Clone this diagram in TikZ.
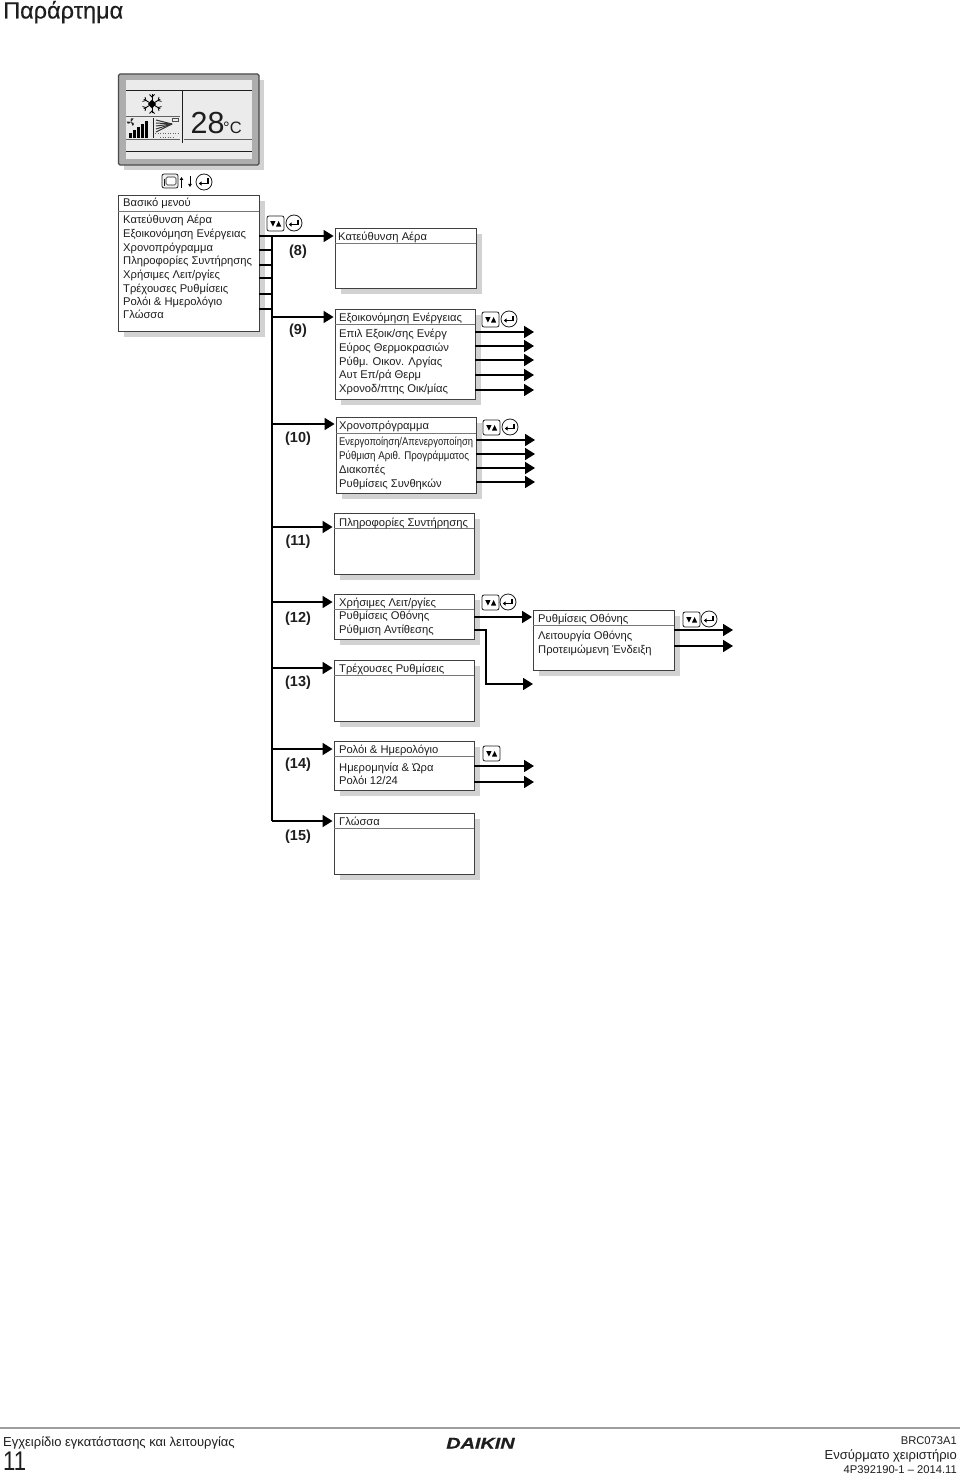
\documentclass[tikz,border=0pt]{standalone}
\usepackage{fontspec}
\setmainfont{Liberation Sans}
\newfontfamily\heavyfont[FakeBold=0.35]{Liberation Sans}
\newfontfamily\logofont[FakeBold=0.5]{Liberation Sans Bold Italic}
\usetikzlibrary{arrows.meta,fit,calc}
\definecolor{ink}{HTML}{1E1E1E}
\definecolor{shadowgrey}{HTML}{D2D2D2}
\tikzset{
  menubox/.style={draw=ink!85,line width=.9pt,fill=white,inner sep=0pt,rectangle},
  flow/.style={draw=black,line width=1.7pt,-{Triangle[length=10pt,width=12pt]}},
  stub/.style={draw=black,line width=1.5pt},
  bus/.style={draw=black,line width=1.8pt},
  sepline/.style={draw=ink!60,line width=.8pt},
  item/.style={anchor=base west,inner sep=0pt,text=ink,font=\fontsize{11.2}{13}\selectfont},
  num/.style={inner sep=0pt,text=ink,font=\fontsize{14.5}{16}\selectfont\bfseries},
  foot/.style={inner sep=0pt,text=ink},
  lcd/.style={draw=ink,line width=1pt},
}
% name, x1,y1,x2,y2,sep y
\newcommand{\menuframe}[6]{%
  \fill[shadowgrey] ({#2+6},{#3+6}) rectangle ({#4+6},{#5+6});
  \node[menubox,fit={(#2,#3)(#4,#5)}] (#1) {};
  \draw[sepline] (#2,#6) -- (#4,#6);
}
\newcommand{\updown}[2]{% x,y top left
  \begin{scope}[shift={(#1,#2)}]
    \draw[draw=ink,line width=.8pt,fill=white,rounded corners=2pt] (0,0) rectangle (17,15);
    \fill[black] (3.2,5) -- (8.6,5) -- (5.9,10.5) -- cycle;
    \fill[black] (9,10.5) -- (14.2,10.5) -- (11.6,5) -- cycle;
  \end{scope}}
\newcommand{\enterkey}[2]{% centre
  \begin{scope}[shift={(#1,#2)}]
    \draw[draw=ink,line width=.8pt,fill=white] (0,0) circle (8);
    \draw[black,line width=1.1pt] (4,-3.5) -- (4,1.5) -- (-3,1.5);
    \fill[black] (-5.2,1.5) -- (-2.5,-.6) -- (-2.5,3.6) -- cycle;
  \end{scope}}
\begin{document}
\begin{tikzpicture}[x=1pt,y=-1pt]
\useasboundingbox (0,0) rectangle (960,1474);
\fill[white] (0,0) rectangle (960,1474);

% page title
\node[anchor=base west,inner sep=0pt,text=ink,font=\fontsize{23.5}{26}\heavyfont] (pagetitle) at (3,18.5) {Παράρτημα};

% display
\fill[shadowgrey] (124,80) rectangle (264,170);
\draw[draw=ink!80,line width=1.3pt,fill=black!32,rounded corners=1.5pt] (118.5,74) rectangle (259,165);
\fill[black!8] (126,80) rectangle (252,159);
\draw[lcd] (126,90.5) -- (252,90.5);
\draw[lcd] (126,152) -- (252,152);
\draw[lcd] (182,91) -- (182,143);
\draw[lcd,draw=ink!70] (184,140) -- (252,140);
\draw[lcd,draw=ink!70] (126,140) -- (180,140);
\draw[lcd,draw=ink!70] (126,117) -- (180,117);
\draw[lcd,line width=.8pt] (153.5,118) -- (153.5,138);
% snowflake
\begin{scope}[shift={(152,104)}]
  \foreach \a in {0,60,...,300}{
    \draw[black,line width=.9pt,rotate=\a] (0,0) -- (0,-9.5);
    \draw[black,line width=.8pt,rotate=\a] (-2.5,-9.5) -- (0,-7) -- (2.5,-9.5);
  }
  \fill[black] (-4,0) -- (0,-4.5) -- (4,0) -- (0,4.5) -- cycle;
\end{scope}
% fan
\begin{scope}[shift={(131,122)}]
  \foreach \a in {30,150,270}{
    \fill[black!85,rotate=\a] (0,0) .. controls (.5,-3.5) and (3.5,-4) .. (4,-1.8) .. controls (3,-1.2) and (1.5,-.5) .. (0,0);
  }
\end{scope}
% level bars
\foreach \bx/\bh in {129/5,133/8,137/11,141/14,145/17}{
  \fill[black] (\bx,138.5) rectangle ({\bx+3.2},{138.5-\bh});
}
% louvres
\foreach \ey in {120,123,126,129,132}{
  \draw[black!80,line width=1pt] (172,124) -- (156,\ey);
}
\draw[black!70,line width=.6pt,fill=black!8] (172,118) rectangle (178,121);
\draw[black!60,line width=.5pt,dotted] (155,133.5) -- (178,133.5);
\draw[black!60,line width=.5pt,dotted] (160,137) -- (174,137);
% temperature
\node[anchor=base west,inner sep=0pt,text=ink,font=\fontsize{30.5}{32}\selectfont] (temp) at (190.5,133.5) {28};
\node[anchor=base west,inner sep=0pt,text=ink,font=\fontsize{16.5}{18}\selectfont] (tempunit) at (223,133.5) {°C};

% buttons under display
\draw[draw=ink,line width=.8pt,fill=black!6,rounded corners=2pt] (162,174) rectangle (178,188);
\draw[draw=ink,line width=.7pt,fill=white,rounded corners=1.5pt] (166,177) -- (176,177) -- (176,185) -- (166,185) -- cycle;
\draw[ink,line width=.7pt] (164,179) -- (164,186);
\draw[black,line width=1pt,-{Triangle[length=3pt,width=3.4pt]}] (181.5,188) -- (181.5,177);
\draw[black,line width=1pt,-{Triangle[length=3pt,width=3.4pt]}] (190,176) -- (190,187);
\enterkey{204}{182}

% main menu
\menuframe{mainmenu}{118}{195}{259}{331}{211}
\node[item] (mtitle) at (123,206) {Βασικό μενού};
\node[item] (m1) at (123,223) {Κατεύθυνση Αέρα};
\node[item] (m2) at (123,237) {Εξοικονόμηση Ενέργειας};
\node[item] (m3) at (123,251) {Χρονοπρόγραμμα};
\node[item] (m4) at (123,264) {Πληροφορίες Συντήρησης};
\node[item] (m5) at (123,278) {Χρήσιμες Λειτ/ργίες};
\node[item] (m6) at (123,292) {Τρέχουσες Ρυθμίσεις};
\node[item] (m7) at (123,305) {Ρολόι \& Ημερολόγιο};
\node[item] (m8) at (123,318) {Γλώσσα};

% sub-menus
\menuframe{b8}{335}{228}{476}{288}{243}
\node[item] (b8t) at (338,240) {Κατεύθυνση Αέρα};

\menuframe{b9}{335}{309}{475}{399}{324}
\node[item] (b9t) at (339,321) {Εξοικονόμηση Ενέργειας};
\node[item] (b9a) at (339,337) {Επιλ Εξοικ/σης Ενέργ};
\node[item] (b9b) at (339,351) {Εύρος Θερμοκρασιών};
\node[item] (b9c) at (339,365) {Ρύθμ. Οικον. Λργίας};
\node[item] (b9d) at (339,378) {Αυτ Επ/ρά Θερμ};
\node[item] (b9e) at (339,392) {Χρονοδ/πτης Οικ/μίας};

\menuframe{b10}{336}{417}{476}{493}{433}
\node[item] (b10t) at (339,429) {Χρονοπρόγραμμα};
\node[item] (b10a) at (339,445) {\scalebox{.84}[1]{Ενεργοποίηση/Απενεργοποίηση}};
\node[item] (b10b) at (339,459) {\scalebox{.87}[1]{Ρύθμιση Αριθ. Προγράμματος}};
\node[item] (b10c) at (339,473) {Διακοπές};
\node[item] (b10d) at (339,487) {Ρυθμίσεις Συνθηκών};

\menuframe{b11}{334}{513}{474}{574}{528}
\node[item] (b11t) at (339,526) {Πληροφορίες Συντήρησης};

\menuframe{b12}{334}{594}{474}{639}{609}
\node[item] (b12t) at (339,606) {Χρήσιμες Λειτ/ργίες};
\node[item] (b12a) at (339,619) {Ρυθμίσεις Οθόνης};
\node[item] (b12b) at (339,633) {Ρύθμιση Αντίθεσης};

\menuframe{b13}{334}{660}{474}{721}{675}
\node[item] (b13t) at (339,672) {Τρέχουσες Ρυθμίσεις};

\menuframe{br}{533}{610}{674}{670}{625}
\node[item] (brt) at (538,622) {Ρυθμίσεις Οθόνης};
\node[item] (bra) at (538,639) {Λειτουργία Οθόνης};
\node[item] (brb) at (538,653) {Προτειμώμενη Ένδειξη};

\menuframe{b14}{334}{741}{474}{790}{756}
\node[item] (b14t) at (339,753) {Ρολόι \& Ημερολόγιο};
\node[item] (b14a) at (339,771.5) {Ημερομηνία \& Ώρα};
\node[item] (b14b) at (339,784) {Ρολόι 12/24};

\menuframe{b15}{334}{813}{474}{874}{828}
\node[item] (b15t) at (339,825) {Γλώσσα};

% numbers
\node[num] (n8) at (298,251.5) {(8)};
\node[num] (n9) at (298,331) {(9)};
\node[num] (n10) at (298,439) {(10)};
\node[num] (n11) at (298,542) {(11)};
\node[num] (n12) at (298,618.5) {(12)};
\node[num] (n13) at (298,683) {(13)};
\node[num] (n14) at (298,764.5) {(14)};
\node[num] (n15) at (298,836.5) {(15)};

% bus
\coordinate (bustop) at (272,236);
\coordinate (busend) at (272,821);
\draw[bus] (bustop) -- (busend);
\foreach \n/\yy in {s1/236,s2/250,s3/265,s4/278,s5/294,s6/309}{
  \coordinate (\n) at (272,\yy);
  \draw[stub] (mainmenu.east |- \n) -- (\n);
}
% bus arrows
\foreach \n/\yy/\tgt in {f8/236/b8,f9/317/b9,f10/424/b10,f11/527/b11,f12/602/b12,f13/668/b13,f14/749/b14,f15/821/b15}{
  \coordinate (\n) at (272,\yy);
  \draw[flow,shorten >=1pt] (\n) -- (\tgt.west |- \n);
}

% outgoing arrows
\foreach \n/\yy/\src in {o9a/332/b9,o9b/346/b9,o9c/360/b9,o9d/375/b9,o9e/390/b9}{
  \coordinate (\n) at (534,\yy);
  \draw[flow] (\src.east |- \n) -- (\n);
}
\foreach \n/\yy/\src in {o10a/440/b10,o10b/454/b10,o10c/468/b10,o10d/482/b10}{
  \coordinate (\n) at (535,\yy);
  \draw[flow] (\src.east |- \n) -- (\n);
}
\foreach \n/\yy/\src in {o14a/766/b14,o14b/782/b14}{
  \coordinate (\n) at (534,\yy);
  \draw[flow] (\src.east |- \n) -- (\n);
}
\foreach \n/\yy/\src in {ora/630/br,orb/646/br}{
  \coordinate (\n) at (733,\yy);
  \draw[flow] (\src.east |- \n) -- (\n);
}
\coordinate (o12a) at (533,617);
\draw[flow,shorten >=.5pt] (b12.east |- o12a) -- (br.west |- o12a);
\coordinate (o12b) at (533,684);
\coordinate (o12k) at (486,630);
\draw[flow] (b12.east |- o12k) -- (o12k) -- (o12k |- o12b) -- (o12b);

% key symbols
\updown{267}{216}\enterkey{294}{223}
\updown{482}{312}\enterkey{509}{319}
\updown{483}{420}\enterkey{510}{427}
\updown{482}{595}\enterkey{508}{602}
\updown{683}{612}\enterkey{709}{619}
\updown{483}{746}

% footer
\fill[black!38] (0,1427) rectangle (960,1429);
\node[foot,anchor=base west,font=\fontsize{13}{14}\selectfont] (footl) at (3,1446) {Εγχειρίδιο εγκατάστασης και λειτουργίας};
\node[foot,anchor=base west,font=\fontsize{27}{28}\selectfont] (footn) at (3,1470) {\scalebox{.82}[1]{11}};
\node[foot,anchor=base,font=\fontsize{15.5}{16}\selectfont\logofont] (logo) at (480.5,1448.5) {\scalebox{1.28}[1]{DAIKIN}};
\node[foot,anchor=base east,font=\fontsize{11.2}{13}\selectfont] (footr1) at (957,1444) {BRC073A1};
\node[foot,anchor=base east,font=\fontsize{13}{15}\selectfont] (footr2) at (957,1459) {Ενσύρματο χειριστήριο};
\node[foot,anchor=base east,font=\fontsize{11.2}{13}\selectfont] (footr3) at (957,1473) {4P392190-1 – 2014.11};
\end{tikzpicture}
\end{document}
